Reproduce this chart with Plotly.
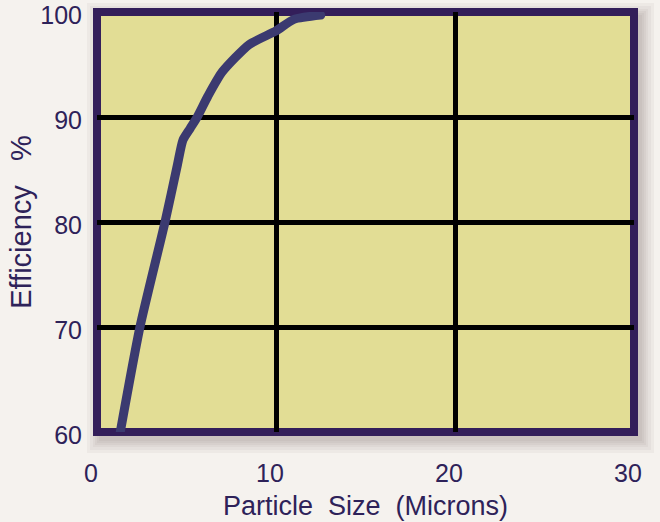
import plotly.graph_objects as go

# Data
particle_size = [1.3, 2.4, 3.8, 4.5, 4.8, 5.2, 5.6, 6.2, 7.0, 8.5, 10.0, 11.0, 12.5]
efficiency = [60, 70, 80, 85.5, 87.8, 88.9, 90, 92, 94.3, 96.9, 98.2, 99.3, 99.7]
x_ticks = [0, 10, 20, 30]
y_ticks = [60, 70, 80, 90, 100]

TEXT = "#2e2259"
FONT = "Liberation Sans, Arial, sans-serif"

fig = go.Figure()
fig.add_trace(go.Scatter(
    x=particle_size, y=efficiency, mode="lines",
    line=dict(color="#3b3a70", width=9, shape="spline", smoothing=0.6),
    hoverinfo="skip", showlegend=False,
))

W, H = 537.0, 420.0  # plot area size in px
shapes = []
# soft drop shadow around the frame (offset down-right)
for grow in [18, 15, 12, 10, 8, 6]:
    dx, dy = 2, 3
    shapes.append(dict(
        type="rect", xref="paper", yref="paper",
        x0=(dx - grow + 6) / W, x1=1 + (dx + grow) / W,
        y0=-(dy + grow) / H, y1=1 + (grow - dy - 6) / H,
        fillcolor="rgba(60,45,45,0.045)", line=dict(width=0), layer="below",
    ))
# plot background
shapes.append(dict(
    type="rect", xref="paper", yref="paper", x0=0, x1=1, y0=0, y1=1,
    fillcolor="#e2dd95", line=dict(width=0), layer="below",
))
# frame border
shapes.append(dict(
    type="rect", xref="paper", yref="paper", x0=0, x1=1, y0=0, y1=1,
    line=dict(color="#331e5a", width=8), fillcolor="rgba(0,0,0,0)", layer="between",
))

fig.update_layout(
    width=660, height=522,
    margin=dict(l=97, r=26, t=12, b=90),
    paper_bgcolor="#f5f2ee",
    plot_bgcolor="rgba(0,0,0,0)",
    font=dict(family=FONT, color=TEXT, size=25),
    shapes=shapes,
    xaxis=dict(
        range=[0, 30], tickvals=x_ticks, ticktext=[str(v) for v in x_ticks],
        showgrid=True, gridcolor="black", gridwidth=5, zeroline=False,
        showline=False, ticks="", ticklabelstandoff=24, ticklabelshift=-6,
        ticklabeloverflow="allow", automargin=False,
        tickfont=dict(size=25, color=TEXT),
        title=dict(text="Particle\u00a0\u00a0Size\u00a0\u00a0(Microns)",
                   font=dict(size=27, color=TEXT), standoff=10),
    ),
    yaxis=dict(
        range=[60, 100], tickvals=y_ticks, ticktext=[str(v) for v in y_ticks],
        showgrid=True, gridcolor="black", gridwidth=5, zeroline=False,
        showline=False, ticks="", ticklabelstandoff=14, ticklabelshift=3,
        ticklabeloverflow="allow", automargin=False,
        tickfont=dict(size=25, color=TEXT),
        title=dict(text="Efficiency\u00a0\u00a0\u00a0%",
                   font=dict(size=29, color=TEXT), standoff=0),
    ),
)

post = """
document.body.style.margin='0';
document.body.style.padding='0';
setTimeout(function(){
document.querySelectorAll('.scatterlayer path').forEach(function(p){
  p.style.strokeLinecap='round'; p.style.strokeLinejoin='round';
});}, 0);
"""
fig.write_html("out.html", post_script=post, config={"displayModeBar": False})
